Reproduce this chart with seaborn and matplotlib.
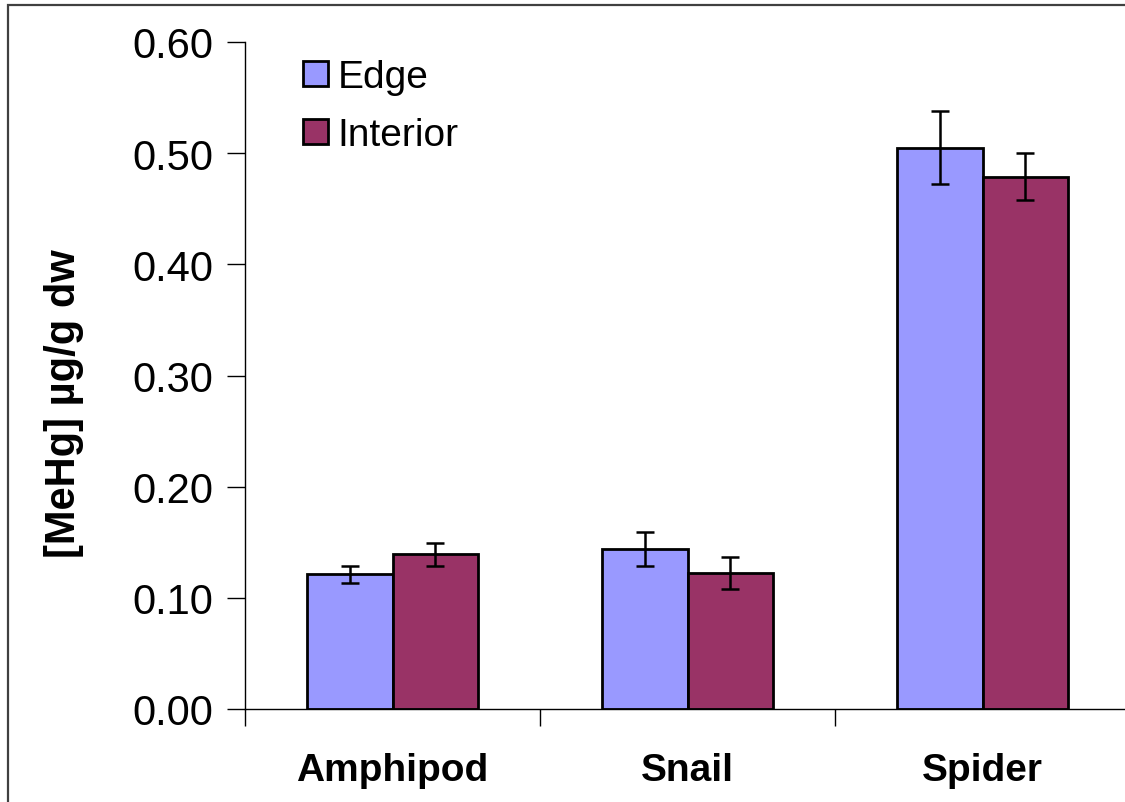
import matplotlib
matplotlib.use("Agg")
import matplotlib.pyplot as plt
import seaborn as sns
import pandas as pd
import numpy as np
from matplotlib.patches import Rectangle

categories = ["Amphipod", "Snail", "Spider"]
series = ["Edge", "Interior"]
edge_vals = [0.121, 0.144, 0.505]
interior_vals = [0.139, 0.122, 0.479]
edge_err = [0.0075, 0.015, 0.0325]
interior_err = [0.0105, 0.0145, 0.021]
yticks = [0.0, 0.1, 0.2, 0.3, 0.4, 0.5, 0.6]
colors = {"Edge": "#9999FF", "Interior": "#993366"}

sns.set_theme(style="white")
plt.rcParams["font.family"] = ["Liberation Sans", "DejaVu Sans"]
plt.rcParams["text.color"] = "black"
plt.rcParams["axes.labelcolor"] = "black"
plt.rcParams["xtick.color"] = "black"
plt.rcParams["ytick.color"] = "black"

df = pd.DataFrame({
    "Category": categories * 2,
    "Series": ["Edge"] * 3 + ["Interior"] * 3,
    "Value": edge_vals + interior_vals,
})

fig = plt.figure(figsize=(11.25, 8.03), dpi=100)
ax = fig.add_axes([245 / 1125, (803 - 710) / 803, 885 / 1125, 667 / 803])

width = 0.58
sns.barplot(data=df, x="Category", y="Value", hue="Series", order=categories,
            hue_order=series, palette=colors, width=width, errorbar=None,
            edgecolor="black", linewidth=2.0, saturation=1, ax=ax)

x = np.arange(len(categories))
off = width / 4
ax.errorbar(x - off, edge_vals, yerr=edge_err, fmt="none", ecolor="black",
            elinewidth=1.8, capsize=6.5, capthick=1.8, zorder=5)
ax.errorbar(x + off, interior_vals, yerr=interior_err, fmt="none", ecolor="black",
            elinewidth=1.8, capsize=6.5, capthick=1.8, zorder=5)

ax.set_ylim(0, 0.6)
ax.set_xlim(-0.5, 2.5)
ax.set_yticks(yticks)
ax.set_yticklabels([f"{v:.2f}" for v in yticks], fontsize=30, color="black")
ax.tick_params(axis="y", which="major", direction="out", length=13, width=1,
               color="black", pad=10, left=True)

ax.set_xticks([-0.5, 0.5, 1.5, 2.5])
ax.set_xticklabels([])
ax.set_xticks(x, minor=True)
ax.set_xticklabels(categories, minor=True, fontsize=28, fontweight="bold",
                   color="black")
ax.tick_params(axis="x", which="major", direction="out", length=12, width=1,
               color="black", bottom=True)
ax.tick_params(axis="x", which="minor", length=0, pad=31, bottom=True)

ax.set_xlabel("")
ax.set_ylabel("[MeHg] µg/g dw", fontsize=30, fontweight="bold", va="center",
              color="black")
ax.yaxis.set_label_coords(-0.205, 0.46)

for s in ["top", "right"]:
    ax.spines[s].set_visible(False)
for s in ["left", "bottom"]:
    ax.spines[s].set_color("black")
    ax.spines[s].set_linewidth(1)

handles, labels = ax.get_legend_handles_labels()
leg = ax.legend(handles, labels, loc="upper left",
                bbox_to_anchor=((295 - 245) / 885, 0.986),
                frameon=False, fontsize=28, handlelength=0.64, handleheight=0.64,
                handletextpad=0.25, labelspacing=0.57, borderaxespad=0,
                borderpad=0.2)
for t in leg.get_texts():
    t.set_color("black")

fig.patches.append(Rectangle((8 / 1125, -0.1), 1.2, (797 / 803) + 0.1,
                             transform=fig.transFigure, fill=False,
                             edgecolor="#404040", linewidth=1.6, zorder=0))

fig.savefig("out.png", dpi=100)
